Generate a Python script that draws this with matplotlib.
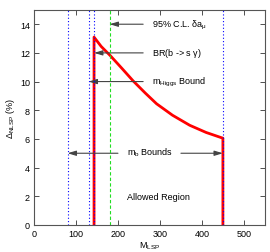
import matplotlib
matplotlib.use("Agg")
import matplotlib.pyplot as plt

plt.rcParams['font.family'] = ['Liberation Sans', 'DejaVu Sans']
plt.rcParams['mathtext.fontset'] = 'custom'
plt.rcParams['mathtext.rm'] = 'Liberation Sans'
plt.rcParams['mathtext.it'] = 'Liberation Sans'

# red boundary of allowed region
m_lsp = [143, 143, 160, 182, 210, 236, 265, 292, 330, 371, 410, 450, 450]
delta = [0.0, 13.1, 12.45, 11.8, 10.9, 10.05, 9.2, 8.45, 7.65, 6.95, 6.45, 6.05, 0.0]

# vertical bound lines
blue_lines = [80, 130, 143, 450]
green_line = 180

# arrow annotations: (text, y, arrow tip x, tail x, text x)
arrows = [
    ("95% C.L. $\\delta$a$_\\mu$", 14, 180, 260, 282),
    ("BR(b -> s $\\gamma$)", 12, 143, 260, 282),
    ("m$_{\\rm Higgs}$ Bound", 10, 130, 260, 282),
]

fig = plt.figure(figsize=(2.7, 2.53), dpi=100)
ax = fig.add_axes([0.126, 0.107, 0.855, 0.85])

ax.plot(m_lsp, delta, color="red", lw=2, zorder=3)
for x in blue_lines:
    ax.axvline(x, color="blue", ls=(0, (1, 2)), lw=0.8, zorder=4)
ax.axvline(green_line, color="#22dd22", ls=(0, (3, 2)), lw=0.8, zorder=4)

aprops = dict(arrowstyle="-|>,head_length=0.5,head_width=0.15",
              color="#444444", lw=0.8, shrinkA=0, shrinkB=0)
for txt, y, tip, tail, tx in arrows:
    ax.annotate("", xy=(tip, y), xytext=(tail, y), arrowprops=aprops)
    ax.text(tx, y, txt, fontsize=6.5, va="center", ha="left")

# m_b bounds: two arrows
ax.annotate("", xy=(80, 5), xytext=(200, 5), arrowprops=aprops)
ax.annotate("", xy=(450, 5), xytext=(350, 5), arrowprops=aprops)
ax.text(221, 5.1, "m$_{\\rm b}$ Bounds", fontsize=6.5, va="center", ha="left")
ax.text(221, 2.0, "Allowed Region", fontsize=6.5, va="center", ha="left")

ax.set_xlim(0, 550)
ax.set_ylim(0, 15)
ax.set_xticks([0, 100, 200, 300, 400, 500])
ax.set_yticks(range(0, 15, 2))
ax.tick_params(labelsize=6.5, direction="in", top=True, right=True,
               length=3.5, width=0.6, pad=3, color="#333333")
for s in ax.spines.values():
    s.set_color("#555555")
    s.set_linewidth(0.8)
ax.set_xlabel("M$_{\\rm LSP}$", fontsize=6.5, labelpad=1)
ax.set_ylabel("$\\Delta_{\\rm NLSP}$ (%)", fontsize=6.5, labelpad=2)

fig.savefig("out.png", dpi=100)
